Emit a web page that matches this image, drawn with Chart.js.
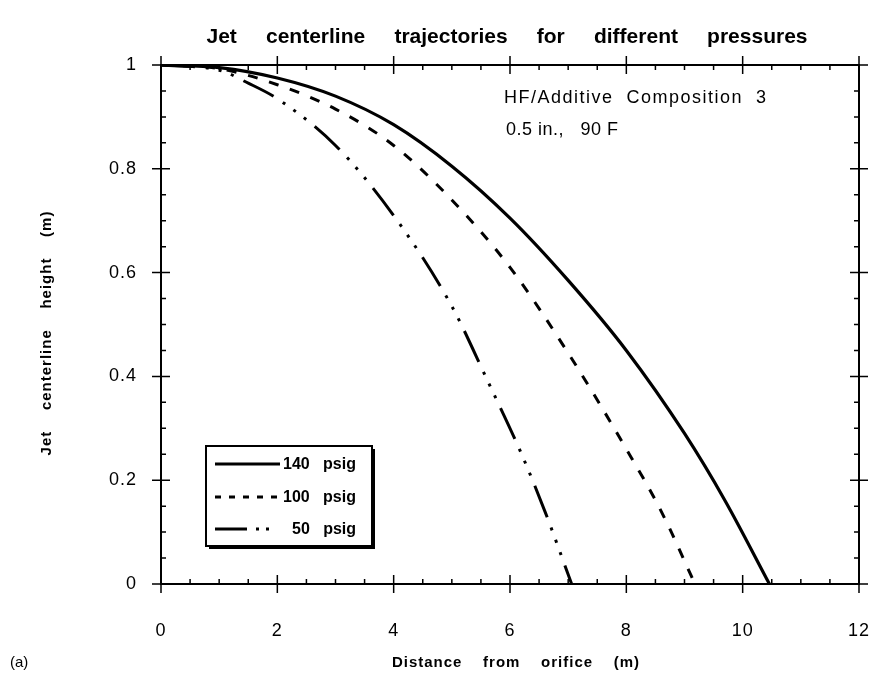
<!DOCTYPE html>
<html lang="en">
<head>
<meta charset="UTF-8" />
<title>Jet centerline trajectories</title>
<script src="https://cdn.jsdelivr.net/npm/chart.js"></script>
<style>
  html, body { margin: 0; padding: 0; background: #fff; }
  canvas { display: block; }
</style>
</head>
<body>
<canvas id="jetChart" width="883" height="677"></canvas>
<script>
// centerline readings: distance from orifice (m) -> height (m)
const dist140 = [0, 1, 2, 3, 4, 5, 6, 7, 8, 9, 9.7, 10.46];
const height140 = [1, 0.995, 0.975, 0.94, 0.885, 0.805, 0.705, 0.585, 0.45, 0.29, 0.16, 0];

const dist100 = [0, 1, 2, 3, 4, 5, 6, 7, 8, 8.6, 9.18];
const height100 = [1, 0.993, 0.962, 0.915, 0.845, 0.74, 0.61, 0.445, 0.26, 0.14, 0];

const dist50 = [0, 1, 1.5, 2, 3, 4, 5, 5.6, 6.2, 6.6, 7.06];
const height50 = [1, 0.99, 0.965, 0.935, 0.845, 0.71, 0.535, 0.395, 0.25, 0.14, 0];

const seriesLabels = ['140   psig', '100   psig', '50   psig'];
const xTicks = [0, 2, 4, 6, 8, 10, 12];
const yTicks = [0, 0.2, 0.4, 0.6, 0.8, 1];
const noteLines = ['HF/Additive  Composition  3', '0.5 in.,   90 F'];

const FONT = '"Liberation Sans", Arial, Helvetica, sans-serif';
Chart.defaults.font.family = FONT;
Chart.defaults.color = '#000';

const pairs = (xs, ys) => xs.map((v, i) => ({ x: v, y: ys[i] }));

// tick numbers are set a little apart
const spacing = {
  id: 'spacing',
  beforeDraw(chart) { chart.ctx.letterSpacing = '1px'; }
};

// box frame with crossing major ticks and inward minor ticks on all sides
const frameTicks = {
  id: 'frameTicks',
  afterDatasetsDraw(chart) {
    const { ctx, chartArea: a, scales: { x, y } } = chart;
    ctx.save();
    ctx.strokeStyle = '#000';
    ctx.lineWidth = 2;
    ctx.strokeRect(a.left, a.top, a.right - a.left, a.bottom - a.top);
    ctx.lineWidth = 1.5;
    ctx.beginPath();
    for (let i = 0; i <= 24; i++) {
      const px = x.getPixelForValue(i * 0.5);
      const major = i % 4 === 0;
      const len = major ? 9 : 5;
      ctx.moveTo(px, a.bottom + (major ? len : 0));
      ctx.lineTo(px, a.bottom - len);
      ctx.moveTo(px, a.top - (major ? len : 0));
      ctx.lineTo(px, a.top + len);
    }
    for (let i = 0; i <= 20; i++) {
      const py = y.getPixelForValue(i * 0.05);
      const major = i % 4 === 0;
      const len = major ? 9 : 5;
      ctx.moveTo(a.left - (major ? len : 0), py);
      ctx.lineTo(a.left + len, py);
      ctx.moveTo(a.right + (major ? len : 0), py);
      ctx.lineTo(a.right - len, py);
    }
    ctx.stroke();
    ctx.restore();
  }
};

// titles, note text and the boxed legend
const decorations = {
  id: 'decorations',
  afterDraw(chart) {
    const { ctx } = chart;
    ctx.save();
    ctx.fillStyle = '#000';
    ctx.textBaseline = 'middle';

    ctx.letterSpacing = '0px';
    ctx.font = 'bold 21px ' + FONT;
    ctx.textAlign = 'center';
    ctx.fillText('Jet     centerline     trajectories     for     different     pressures', 507, 37);

    ctx.letterSpacing = '1px';
    ctx.font = 'bold 15px ' + FONT;
    ctx.fillText('Distance    from    orifice    (m)', 516, 663);

    ctx.save();
    ctx.translate(47, 333);
    ctx.rotate(-Math.PI / 2);
    ctx.fillText('Jet    centerline    height    (m)', 0, 0);
    ctx.restore();

    ctx.letterSpacing = '0px';
    ctx.font = '15px ' + FONT;
    ctx.textAlign = 'left';
    ctx.fillText('(a)', 10, 663);

    ctx.letterSpacing = '1.5px';
    ctx.font = '18px ' + FONT;
    ctx.fillText(noteLines[0], 504, 98);
    ctx.letterSpacing = '0.5px';
    ctx.fillText(noteLines[1], 506, 130);

    // legend box with drop shadow
    const bx = 206, by = 446, bw = 166, bh = 100;
    ctx.fillStyle = '#000';
    ctx.fillRect(bx + 3, by + 3, bw, bh);
    ctx.fillStyle = '#fff';
    ctx.fillRect(bx, by, bw, bh);
    ctx.strokeStyle = '#000';
    ctx.lineWidth = 2;
    ctx.strokeRect(bx, by, bw, bh);

    const rows = [464, 497, 529];
    ctx.letterSpacing = '0px';
    ctx.font = 'bold 16px ' + FONT;
    chart.data.datasets.forEach((ds, i) => {
      ctx.save();
      ctx.lineWidth = ds.borderWidth;
      ctx.setLineDash(ds.legendDash || []);
      ctx.beginPath();
      ctx.moveTo(215, rows[i]);
      ctx.lineTo(i === 2 ? 272 : 280, rows[i]);
      ctx.stroke();
      ctx.restore();
      ctx.fillStyle = '#000';
      ctx.fillText(ds.label, i === 2 ? 292 : 283, rows[i] + 1);
    });
    ctx.restore();
  }
};

// labels keep their distance from the frame through an invisible tick mark
const hiddenTickGrid = len => ({
  display: true,
  drawOnChartArea: false,
  drawTicks: true,
  tickLength: len,
  color: 'rgba(0,0,0,0)'
});

new Chart(document.getElementById('jetChart').getContext('2d'), {
  type: 'line',
  data: {
    datasets: [
      {
        label: seriesLabels[0],
        data: pairs(dist140, height140),
        borderColor: '#000',
        borderWidth: 3.2,
        pointRadius: 0,
        cubicInterpolationMode: 'monotone'
      },
      {
        label: seriesLabels[1],
        data: pairs(dist100, height100),
        borderColor: '#000',
        borderWidth: 3,
        borderDash: [10, 12],
        legendDash: [6, 8],
        pointRadius: 0,
        cubicInterpolationMode: 'monotone'
      },
      {
        label: seriesLabels[2],
        data: pairs(dist50, height50),
        borderColor: '#000',
        borderWidth: 3,
        borderDash: [34, 11, 3, 10, 3, 10, 3, 11],
        legendDash: [32, 9, 3, 7, 3, 20],
        pointRadius: 0,
        cubicInterpolationMode: 'monotone'
      }
    ]
  },
  options: {
    responsive: false,
    animation: false,
    layout: { padding: { top: 65, right: 24, left: 0, bottom: 0 } },
    plugins: { legend: { display: false }, tooltip: { enabled: false } },
    scales: {
      x: {
        type: 'linear',
        min: 0,
        max: 12,
        afterBuildTicks: s => { s.ticks = xTicks.map(v => ({ value: v })); },
        afterFit: s => { s.height = 93; },
        grid: hiddenTickGrid(36),
        border: { display: false },
        ticks: { padding: 0, font: { size: 18 }, maxRotation: 0 }
      },
      y: {
        min: 0,
        max: 1,
        afterBuildTicks: s => { s.ticks = yTicks.map(v => ({ value: v })); },
        afterFit: s => { s.width = 161; },
        grid: hiddenTickGrid(24),
        border: { display: false },
        ticks: {
          padding: 0,
          font: { size: 18 },
          callback: v => String(Math.round(v * 10) / 10)
        }
      }
    }
  },
  plugins: [spacing, frameTicks, decorations]
});
</script>
</body>
</html>
